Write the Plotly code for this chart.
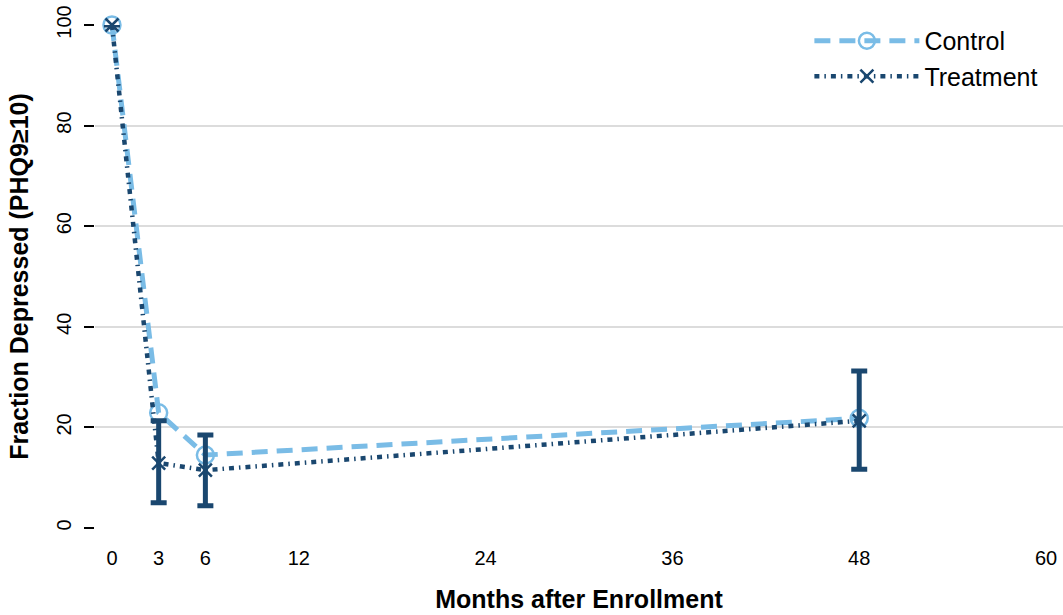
import plotly.graph_objects as go

months = [0, 3, 6, 48]
control = [100, 22.9, 14.5, 21.8]
treatment = [100, 12.9, 11.5, 21.3]
treat_hi = [None, 21.3, 18.5, 31.2]
treat_lo = [None, 5.0, 4.4, 11.7]

x_ticks = [0, 3, 6, 12, 24, 36, 48, 60]
y_ticks = [0, 20, 40, 60, 80, 100]

light = "#7ABCE6"
navy = "#1A476F"

err_plus = [0 if h is None else h - t for h, t in zip(treat_hi, treatment)]
err_minus = [0 if l is None else t - l for l, t in zip(treat_lo, treatment)]

fig = go.Figure()
fig.add_trace(go.Scatter(
    x=months, y=control, name="Control", mode="lines+markers",
    line=dict(color=light, width=5, dash="16px,9px"),
    marker=dict(symbol="circle-open", size=17, color=light, line=dict(width=2.5)),
    cliponaxis=False,
))
fig.add_trace(go.Scatter(
    x=months, y=treatment, name="Treatment", mode="lines+markers",
    line=dict(color=navy, width=4.5, dash="5px,5px,1.5px,5px"),
    marker=dict(symbol="x-thin", size=13, color=navy, line=dict(width=2.5, color=navy)),
    error_y=dict(type="data", symmetric=False, array=err_plus, arrayminus=err_minus,
                 color=navy, thickness=5, width=8),
    cliponaxis=False,
))

fig.update_layout(
    width=1063, height=615,
    paper_bgcolor="white", plot_bgcolor="white",
    margin=dict(l=95, r=0, t=25, b=87),
    font=dict(family="Liberation Sans, Arial, sans-serif", size=20, color="black"),
    showlegend=True,
    legend=dict(x=0.738, y=1.014, xanchor="left", yanchor="top",
                bgcolor="white", font=dict(size=25), itemwidth=105,
                tracegroupgap=0),
)
fig.update_xaxes(
    range=[-1.09, 61.09], tickvals=x_ticks, ticktext=[str(t) for t in x_ticks],
    showgrid=False, zeroline=False, showline=False,
    ticks="outside", ticklen=12, tickcolor="rgba(0,0,0,0)",
    tickfont=dict(size=20), ticklabeloverflow="allow",
    title=dict(text="<b>Months after Enrollment</b>", font=dict(size=25), standoff=22),
)
fig.update_yaxes(
    range=[0, 100], tickvals=y_ticks, ticktext=[str(t) for t in y_ticks],
    showgrid=True, gridcolor="#DCDCDC", gridwidth=2, zeroline=False, showline=False,
    ticks="outside", ticklen=10, tickcolor="black", tickwidth=1.5,
    tickangle=-90, tickfont=dict(size=20), ticklabeloverflow="allow",
    ticklabelstandoff=5,
    title=dict(text="<b>Fraction Depressed (PHQ9≥10)</b>", font=dict(size=25), standoff=17),
)

fig.write_html("out.html", config={"displayModeBar": False},
               post_script="document.body.style.margin='0';")
